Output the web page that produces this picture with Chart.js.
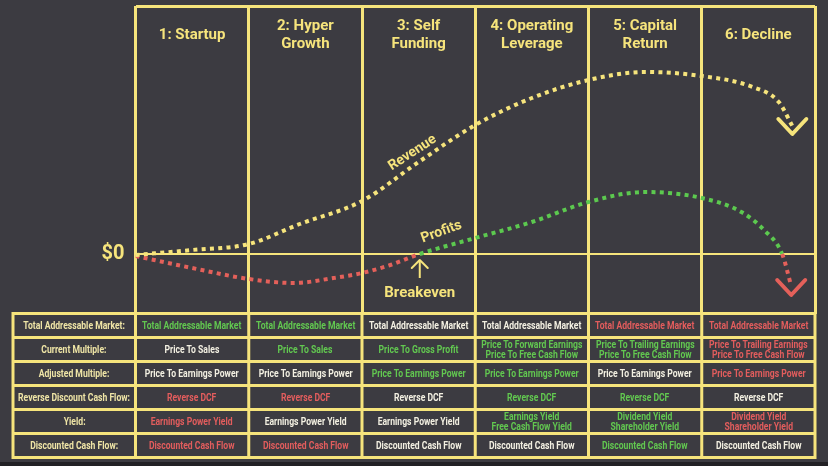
<!DOCTYPE html>
<html>
<head>
<meta charset="utf-8">
<script src="https://cdn.jsdelivr.net/npm/chart.js@4.4.1/dist/chart.umd.min.js"></script>
<style>
  html, body { margin: 0; padding: 0; background: #3c3b41; }
  #wrap { position: relative; width: 828px; height: 466px; overflow: hidden; font-family: Roboto, sans-serif; }
  #grafica { position: absolute; left: 0; top: 0; }
  .txt { position: absolute; color: #f6e47c; font-weight: bold; white-space: nowrap; text-align: center; transform: translate(-50%, -50%); }
  .celda { position: absolute; display: flex; align-items: center; justify-content: center; text-align: center; font-weight: bold; font-size: 10px; line-height: 10px; white-space: nowrap; }
  .celda span { display: inline-block; transform: scaleX(0.86); }
  #franja { position: absolute; left: 0; bottom: 0; width: 828px; height: 4px; background: #222125; }
</style>
</head>
<body>
<div id="wrap">
  <canvas id="grafica" width="828" height="466"></canvas>
  <div id="franja"></div>
</div>
<script>
// === DATOS ===
const fases = ["1: Startup", "2: Hyper\nGrowth", "3: Self\nFunding", "4: Operating\nLeverage", "5: Capital\nReturn", "6: Decline"];

// curva de ingresos (x en fases, y en unidades relativas)
const revenueX = [0, 0.5, 1.0, 1.45, 2.0, 2.5, 3.0, 3.5, 4.0, 4.5, 5.0, 5.45, 5.68, 5.8];
const revenueY = [-1, 4, 10, 30, 53, 92, 129, 156, 174, 182, 178, 167, 152, 128];

// curva de utilidades
const profitsX = [0, 0.5, 1.0, 1.4, 1.75, 2.0, 2.25, 2.51, 3.0, 3.5, 4.0, 4.5, 5.0, 5.35, 5.55, 5.71, 5.79];
const profitsY = [-2, -14, -25, -29, -24, -19, -11, 0, 16, 32, 52, 62, 56, 42, 24, 0, -32];

const breakevenX = 2.51;
const yTicks = [0];

// tabla inferior
const filas = ["Total Addressable Market:", "Current Multiple:", "Adjusted Multiple:", "Reverse Discount Cash Flow:", "Yield:", "Discounted Cash Flow:"];
const col1 = ["Total Addressable Market", "Price To Sales", "Price To Earnings Power", "Reverse DCF", "Earnings Power Yield", "Discounted Cash Flow"];
const col2 = ["Total Addressable Market", "Price To Sales", "Price To Earnings Power", "Reverse DCF", "Earnings Power Yield", "Discounted Cash Flow"];
const col3 = ["Total Addressable Market", "Price To Gross Profit", "Price To Earnings Power", "Reverse DCF", "Earnings Power Yield", "Discounted Cash Flow"];
const col4 = ["Total Addressable Market", "Price To Forward Earnings\nPrice To Free Cash Flow", "Price To Earnings Power", "Reverse DCF", "Earnings Yield\nFree Cash Flow Yield", "Discounted Cash Flow"];
const col5 = ["Total Addressable Market", "Price To Trailing Earnings\nPrice To Free Cash Flow", "Price To Earnings Power", "Reverse DCF", "Dividend Yield\nShareholder Yield", "Discounted Cash Flow"];
const col6 = ["Total Addressable Market", "Price To Trailing Earnings\nPrice To Free Cash Flow", "Price To Earnings Power", "Reverse DCF", "Dividend Yield\nShareholder Yield", "Discounted Cash Flow"];
// G = verde, R = rojo, W = blanco
const tonos1 = ["G", "W", "W", "R", "R", "R"];
const tonos2 = ["G", "G", "W", "R", "W", "R"];
const tonos3 = ["W", "G", "G", "W", "W", "W"];
const tonos4 = ["W", "G", "G", "G", "G", "W"];
const tonos5 = ["R", "G", "W", "G", "G", "G"];
const tonos6 = ["R", "R", "R", "W", "R", "W"];

const columnas = [col1, col2, col3, col4, col5, col6];
const tonos = [tonos1, tonos2, tonos3, tonos4, tonos5, tonos6];

// === ESTILOS ===
const amarillo = "#f6e47c";
const rojo = "#e4605a";
const verde = "#5cc94f";
const colores = { G: "#62c850", R: "#e35d5d", W: "#f3f0e2" };
const altoFila = 24;

Chart.defaults.font.family = "Roboto";

function chevron(ctx, x, y, ancho, alto, color, grosor) {
  ctx.save();
  ctx.strokeStyle = color;
  ctx.lineWidth = grosor;
  ctx.lineCap = "round";
  ctx.lineJoin = "round";
  ctx.beginPath();
  ctx.moveTo(x - ancho, y - alto);
  ctx.lineTo(x, y);
  ctx.lineTo(x + ancho, y - alto);
  ctx.stroke();
  ctx.restore();
}

// flechas al final de las curvas y en el punto de equilibrio
const flechas = {
  id: "flechas",
  afterDatasetsDraw(chart) {
    const ctx = chart.ctx;
    chart.data.datasets.forEach((ds, i) => {
      const meta = chart.getDatasetMeta(i);
      const ult = meta.data[meta.data.length - 1];
      chevron(ctx, ult.x, ult.y + ds.offsetFlecha, 14, 15, ds.colorFlecha, 4);
    });
    const bx = chart.scales.x.getPixelForValue(breakevenX);
    const by = chart.scales.y.getPixelForValue(0);
    ctx.save();
    ctx.strokeStyle = amarillo;
    ctx.lineWidth = 2;
    ctx.beginPath();
    ctx.moveTo(bx, by + 6);
    ctx.lineTo(bx, by + 24);
    ctx.stroke();
    ctx.restore();
    chevron(ctx, bx, by + 6, 8, -8, amarillo, 2);
  }
};

// rejilla de la tabla
const rejillaTabla = {
  id: "rejillaTabla",
  afterDraw(chart) {
    const ctx = chart.ctx;
    const top = chart.chartArea.bottom;
    const izq = 13;
    const der = chart.chartArea.right;
    const abajo = top + filas.length * altoFila;
    ctx.save();
    ctx.strokeStyle = amarillo;
    ctx.lineWidth = 3;
    ctx.beginPath();
    for (let k = 0; k <= filas.length; k++) {
      const y = top + k * altoFila;
      ctx.moveTo(izq - 1.5, y);
      ctx.lineTo(der + 1.5, y);
    }
    ctx.moveTo(izq, top);
    ctx.lineTo(izq, abajo);
    for (let i = 0; i <= fases.length; i++) {
      const x = chart.scales.x.getPixelForValue(i);
      ctx.moveTo(x, top);
      ctx.lineTo(x, abajo);
    }
    ctx.stroke();
    ctx.restore();
  }
};

const grafica = new Chart(document.getElementById("grafica"), {
  type: "line",
  data: {
    datasets: [
      {
        label: "Revenue",
        data: revenueX.map((x, i) => ({ x, y: revenueY[i] })),
        borderColor: amarillo,
        borderWidth: 4,
        borderDash: [4, 4.3],
        cubicInterpolationMode: "monotone",
        pointRadius: 0,
        colorFlecha: amarillo,
        offsetFlecha: 8
      },
      {
        label: "Profits",
        data: profitsX.map((x, i) => ({ x, y: profitsY[i] })),
        borderColor: verde,
        borderWidth: 4,
        borderDash: [4, 4.3],
        cubicInterpolationMode: "monotone",
        pointRadius: 0,
        segment: {
          borderColor: c => (c.p0.parsed.y < 0 || c.p1.parsed.y < 0) ? rojo : verde
        },
        colorFlecha: rojo,
        offsetFlecha: 9
      }
    ]
  },
  options: {
    responsive: false,
    animation: false,
    layout: { padding: { top: 6, right: 13, bottom: 152.5, left: 0 } },
    plugins: { legend: { display: false }, tooltip: { enabled: false } },
    scales: {
      x: {
        type: "linear",
        min: 0,
        max: 6,
        ticks: { display: false, stepSize: 1 },
        grid: { color: amarillo, lineWidth: 3, drawTicks: false },
        border: { display: false },
        afterFit: s => { s.height = 0; s.paddingLeft = 0; s.paddingRight = 0; }
      },
      y: {
        min: -59.5,
        max: 248,
        afterBuildTicks: s => { s.ticks = yTicks.concat([248]).map(v => ({ value: v })); },
        ticks: {
          callback: v => v === 0 ? "$0" : "",
          color: amarillo,
          font: { size: 20, weight: "bold" },
          padding: 11
        },
        grid: { color: amarillo, lineWidth: c => c.tick && c.tick.value === 0 ? 2 : 3, drawTicks: false },
        border: { display: false },
        afterFit: s => { s.width = 135.5; s.paddingTop = 0; s.paddingBottom = 0; }
      }
    }
  },
  plugins: [flechas, rejillaTabla]
});

// === TEXTOS ===
const wrap = document.getElementById("wrap");
const sx = grafica.scales.x;
const sy = grafica.scales.y;

function texto(cadena, x, y, tam, giro) {
  const d = document.createElement("div");
  d.className = "txt";
  d.style.left = x + "px";
  d.style.top = y + "px";
  d.style.fontSize = tam + "px";
  d.style.lineHeight = Math.round(tam * 1.2) + "px";
  d.style.transform = `translate(-50%, -50%) rotate(${giro || 0}deg)`;
  d.innerHTML = cadena.replace(/\n/g, "<br>");
  wrap.appendChild(d);
}

fases.forEach((f, i) => texto(f, sx.getPixelForValue(i + 0.5), 34, 15));
texto("Revenue", sx.getPixelForValue(2.44), sy.getPixelForValue(102), 14, -33);
texto("Profits", sx.getPixelForValue(2.7), sy.getPixelForValue(23), 14, -20);
texto("Breakeven", sx.getPixelForValue(breakevenX), sy.getPixelForValue(0) + 38, 15);

function celda(cadena, x0, x1, y0, color) {
  const d = document.createElement("div");
  d.className = "celda";
  d.style.left = x0 + "px";
  d.style.width = (x1 - x0) + "px";
  d.style.top = y0 + "px";
  d.style.height = altoFila + "px";
  d.style.color = color;
  d.innerHTML = "<span>" + cadena.replace(/\n/g, "<br>") + "</span>";
  wrap.appendChild(d);
}

const topTabla = grafica.chartArea.bottom;
filas.forEach((f, k) => {
  const y0 = topTabla + k * altoFila;
  celda(f, 13, sx.getPixelForValue(0), y0, "#efe5a6");
  columnas.forEach((col, i) => {
    celda(col[k], sx.getPixelForValue(i), sx.getPixelForValue(i + 1), y0, colores[tonos[i][k]]);
  });
});
</script>
</body>
</html>
